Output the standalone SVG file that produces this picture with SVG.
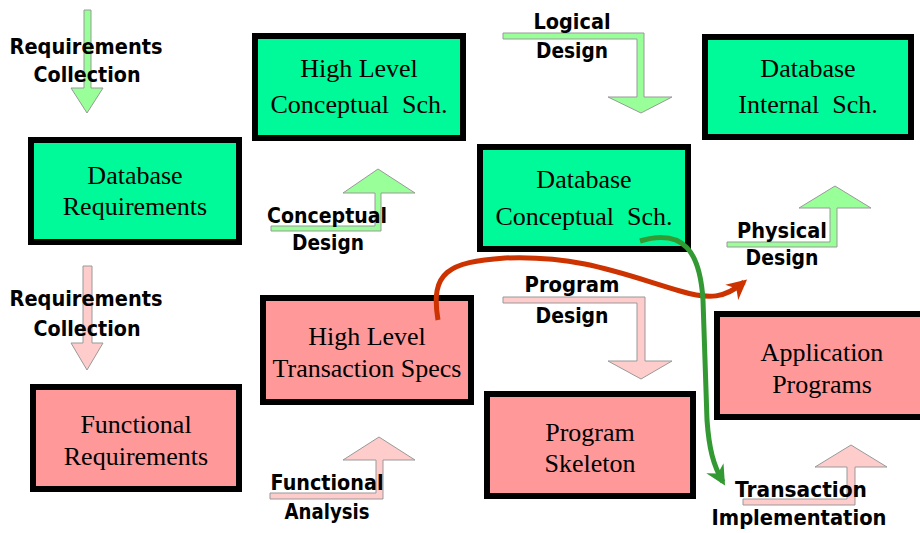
<svg xmlns="http://www.w3.org/2000/svg" width="920" height="533" viewBox="0 0 920 533">
  <style>
    .box rect { stroke: #000; stroke-width: 6; }
    .db rect { fill: #00fa9a; }
    .fn rect { fill: #ff9999; }
    .box text { font-family: "Liberation Serif", "Times New Roman", serif; font-size: 26px; fill: #000; text-anchor: middle; }
    .step path { stroke: #999; stroke-width: 1; }
    .g path { fill: #99ff99; }
    .p path { fill: #ffcccc; }
    .step text { font-family: "DejaVu Sans", "Liberation Sans", sans-serif; font-weight: bold; font-size: 21px; fill: #000; text-anchor: middle; }
    .flow { fill: none; stroke-width: 5; stroke-linecap: butt; }
  </style>
  <defs>
    <marker id="headRed" viewBox="0 0 10 10" refX="8" refY="5" markerWidth="4" markerHeight="4" orient="auto" markerUnits="strokeWidth">
      <path d="M0,0 L10,5 L0,10 L3,5 Z" fill="#cc3300"/>
    </marker>
    <marker id="headGreen" viewBox="0 0 10 10" refX="8" refY="5" markerWidth="4" markerHeight="4" orient="auto" markerUnits="strokeWidth">
      <path d="M0,0 L10,5 L0,10 L3,5 Z" fill="#339933"/>
    </marker>
  </defs>
  <rect width="920" height="533" fill="#fff"/>

  <!-- process steps: block arrows with their labels -->
  <g id="step-req-collection-db" class="step g">
    <path d="M84,10 L91,10 L91,88 L103,88 L87,113 L71,88 L84,88 Z"/>
    <text x="86" y="54" textLength="153" lengthAdjust="spacingAndGlyphs">Requirements</text>
    <text x="87" y="82" textLength="107" lengthAdjust="spacingAndGlyphs">Collection</text>
  </g>
  <g id="step-req-collection-fn" class="step p">
    <path d="M83,266 L92,266 L92,343 L103,343 L87,370 L71,343 L83,343 Z"/>
    <text x="86" y="306" textLength="153" lengthAdjust="spacingAndGlyphs">Requirements</text>
    <text x="87" y="336" textLength="107" lengthAdjust="spacingAndGlyphs">Collection</text>
  </g>
  <g id="step-conceptual-design" class="step g">
    <path d="M271,226 L375,226 L375,193 L343,193 L378,169 L415,193 L381,193 L381,231 L271,231 Z"/>
    <text x="327" y="223" textLength="120" lengthAdjust="spacingAndGlyphs">Conceptual</text>
    <text x="328" y="250" textLength="72" lengthAdjust="spacingAndGlyphs">Design</text>
  </g>
  <g id="step-logical-design" class="step g">
    <path d="M503,33 L644,33 L644,97 L672,97 L641,113 L608,97 L637,97 L637,39 L503,39 Z"/>
    <text x="572" y="29" textLength="77" lengthAdjust="spacingAndGlyphs">Logical</text>
    <text x="572" y="58" textLength="72" lengthAdjust="spacingAndGlyphs">Design</text>
  </g>
  <g id="step-physical-design" class="step g">
    <path d="M727,242 L830,242 L830,208 L799,208 L835,186 L871,208 L837,208 L837,247 L727,247 Z"/>
    <text x="782" y="238" textLength="90" lengthAdjust="spacingAndGlyphs">Physical</text>
    <text x="782" y="265" textLength="73" lengthAdjust="spacingAndGlyphs">Design</text>
  </g>
  <g id="step-program-design" class="step p">
    <path d="M503,297 L645,297 L645,361 L672,361 L641,379 L608,361 L637,361 L637,303 L503,303 Z"/>
    <text x="572" y="292" textLength="95" lengthAdjust="spacingAndGlyphs">Program</text>
    <text x="572" y="323" textLength="73" lengthAdjust="spacingAndGlyphs">Design</text>
  </g>
  <g id="step-functional-analysis" class="step p">
    <path d="M270,493 L376,493 L376,460 L343,460 L379,437 L415,460 L383,460 L383,499 L270,499 Z"/>
    <text x="327" y="490" textLength="113" lengthAdjust="spacingAndGlyphs">Functional</text>
    <text x="327" y="519" textLength="85" lengthAdjust="spacingAndGlyphs">Analysis</text>
  </g>
  <g id="step-transaction-impl" class="step p">
    <path d="M743,499 L847,499 L847,467 L815,467 L851,445 L887,467 L855,467 L855,505 L743,505 Z"/>
    <text x="801" y="497" textLength="132" lengthAdjust="spacingAndGlyphs">Transaction</text>
    <text x="799" y="525" textLength="175" lengthAdjust="spacingAndGlyphs">Implementation</text>
  </g>

  <!-- artefacts -->
  <g id="db-requirements" class="box db">
    <rect x="31" y="140" width="208" height="102"/>
    <text x="135" y="184">Database</text>
    <text x="135" y="215">Requirements</text>
  </g>
  <g id="hl-conceptual" class="box db">
    <rect x="255" y="36" width="208" height="102"/>
    <text x="359" y="77">High Level</text>
    <text x="359" y="113" xml:space="preserve">Conceptual  Sch.</text>
  </g>
  <g id="db-conceptual" class="box db">
    <rect x="480" y="147" width="208" height="102"/>
    <text x="584" y="188">Database</text>
    <text x="584" y="225" xml:space="preserve">Conceptual  Sch.</text>
  </g>
  <g id="db-internal" class="box db">
    <rect x="705" y="37" width="206" height="100"/>
    <text x="808" y="77">Database</text>
    <text x="808" y="113" xml:space="preserve">Internal  Sch.</text>
  </g>
  <g id="fn-requirements" class="box fn">
    <rect x="33" y="387" width="206" height="102"/>
    <text x="136" y="433">Functional</text>
    <text x="136" y="465">Requirements</text>
  </g>
  <g id="hl-transaction-specs" class="box fn">
    <rect x="263" y="298" width="208" height="104"/>
    <text x="367" y="345">High Level</text>
    <text x="367" y="377">Transaction Specs</text>
  </g>
  <g id="program-skeleton" class="box fn">
    <rect x="487" y="394" width="206" height="102"/>
    <text x="590" y="441">Program</text>
    <text x="590" y="472">Skeleton</text>
  </g>
  <g id="application-programs" class="box fn">
    <rect x="717" y="314" width="212" height="103"/>
    <text x="822" y="361">Application</text>
    <text x="822" y="393">Programs</text>
  </g>

  <!-- cross-links -->
  <g id="connectors">
    <path class="flow" stroke="#cc3300" marker-end="url(#headRed)" d="M438,320 C430,272 448,262 505,258 C580,255 625,275 680,291 C710,300 725,298 744,282"/>
    <path class="flow" stroke="#339933" marker-end="url(#headGreen)" d="M640,241 C684,228 700,252 703,300 L707,420 C709,448 713,465 723,482"/>
  </g>
</svg>
